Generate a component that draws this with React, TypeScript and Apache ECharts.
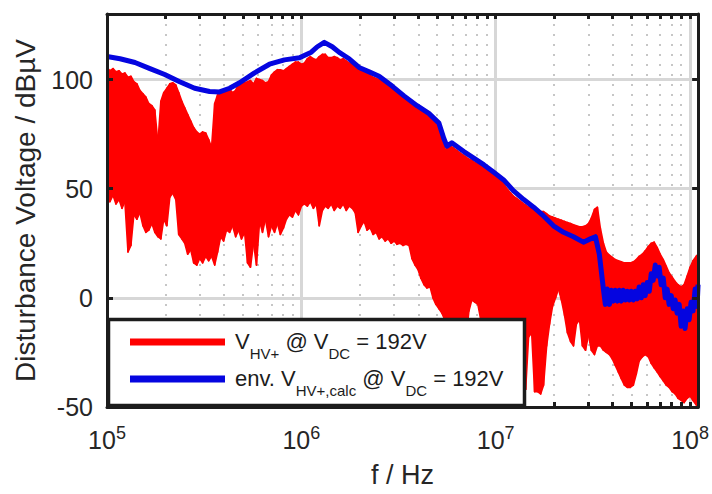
import React, { useEffect, useRef } from 'react';
import * as echarts from 'echarts';

// ---- data (log10 of frequency in Hz, disturbance voltage in dBµV) ----
const redLogF = [
  5.000, 5.015, 5.031, 5.046, 5.062, 5.077, 5.092, 5.108, 5.123, 5.138,
  5.154, 5.169, 5.185, 5.200, 5.215, 5.231, 5.246, 5.262, 5.277, 5.292,
  5.308, 5.323, 5.338, 5.354, 5.369, 5.385, 5.400, 5.415, 5.431, 5.446,
  5.462, 5.477, 5.492, 5.508, 5.523, 5.538, 5.554, 5.569, 5.585, 5.600,
  5.615, 5.631, 5.646, 5.662, 5.677, 5.692, 5.708, 5.723, 5.738, 5.754,
  5.769, 5.785, 5.800, 5.815, 5.831, 5.846, 5.862, 5.877, 5.892, 5.908,
  5.923, 5.938, 5.954, 5.969, 5.985, 6.000, 6.015, 6.031, 6.046, 6.062,
  6.077, 6.092, 6.108, 6.123, 6.138, 6.154, 6.169, 6.185, 6.200, 6.215,
  6.231, 6.246, 6.262, 6.277, 6.292, 6.308, 6.323, 6.338, 6.354, 6.369,
  6.385, 6.400, 6.415, 6.431, 6.446, 6.462, 6.477, 6.492, 6.508, 6.523,
  6.538, 6.554, 6.569, 6.585, 6.600, 6.615, 6.631, 6.646, 6.662, 6.677,
  6.692, 6.708, 6.723, 6.738, 6.754, 6.769, 6.785, 6.800, 6.815, 6.831,
  6.846, 6.862, 6.877, 6.892, 6.908, 6.923, 6.938, 6.954, 6.969, 6.985,
  7.000, 7.015, 7.031, 7.046, 7.062, 7.077, 7.092, 7.108, 7.123, 7.138,
  7.154, 7.169, 7.185, 7.200, 7.215, 7.231, 7.246, 7.262, 7.277, 7.292,
  7.308, 7.323, 7.338, 7.354, 7.369, 7.385, 7.400, 7.415, 7.431, 7.446,
  7.462, 7.477, 7.492, 7.508, 7.523, 7.538, 7.554, 7.569, 7.585, 7.600,
  7.615, 7.631, 7.646, 7.662, 7.677, 7.692, 7.708, 7.723, 7.738, 7.754,
  7.769, 7.785, 7.800, 7.815, 7.831, 7.846, 7.862, 7.877, 7.892, 7.908,
  7.923, 7.938, 7.954, 7.969, 7.985, 8.000, 8.015, 8.031, 8.041,
];

const redTop = [
  105.5, 104, 105, 103.5, 104, 102.5, 103, 101, 101.5, 99,
  98, 95, 93.5, 92, 89, 88, 86, 71, 90, 94,
  96, 98, 98.5, 97.5, 94, 90, 87, 84, 81, 78,
  76, 75, 76, 75.5, 72.5, 69, 89, 93, 94.5, 95,
  95, 95.5, 94, 95, 98, 99, 98.5, 99, 99.5, 98,
  100.5, 100, 99.5, 98.5, 99, 102, 103.5, 104.5, 104.5, 104,
  105, 106, 107, 108, 108, 107, 107.5, 109.5, 110.5, 109.5,
  109, 110.5, 111.5, 111.5, 110, 110, 110.5, 110, 109, 109.5,
  108.5, 107.5, 107, 106, 105, 104.5, 104, 103, 102, 101,
  100.5, 100, 99, 98, 97.5, 96.5, 95.5, 94.5, 93.5, 92.5,
  91.5, 90.5, 89, 88, 87, 86, 85, 84, 82.5, 81,
  79.5, 78, 74, 68, 68.5, 69.5, 68.5, 67.5, 66.5, 65.5,
  64.5, 63.5, 63, 62, 61.5, 60.5, 59.5, 58.5, 57.5, 56.5,
  55.5, 54.5, 53, 51.5, 49.5, 48, 46.5, 45.5, 44.5, 43.5,
  42.5, 41.5, 41, 40.5, 40, 39.5, 39.5, 38.5, 37.5, 37,
  36.5, 36, 35.5, 35, 34.5, 34, 33.5, 33, 32.5, 32.5,
  33, 34, 36.5, 40.5, 41.5, 32, 25, 21, 19.5, 18.5,
  17.5, 17, 16.5, 16, 16, 16, 16.5, 17.5, 19, 20,
  21.5, 23.5, 25, 25.5, 23, 20, 17.5, 14.5, 11.5, 9.5,
  7.5, 6, 5, 6, 10, 14, 17, 19, 20,
];

const redBottom = [
  46, 44, 47, 43, 45, 41, 44, 21, 24, 38,
  36, 39, 33, 30, 31, 34, 30, 28, 27, 36,
  33, 46, 48, 45, 29, 27, 25, 20, 22, 16,
  15, 18, 16, 19, 17, 19, 15, 21, 28, 26,
  31, 30, 33, 28, 31, 27, 30, 16, 14, 25,
  15, 35, 30, 36, 28, 33, 30, 34, 29, 32,
  36, 38, 37, 40, 38, 42, 43, 42, 44, 41,
  43, 33, 40, 42, 41, 43, 40, 42, 41, 43,
  40, 42, 41, 39, 30, 33, 35, 31, 32, 29,
  30, 27, 28, 26, 27, 25, 26, 24.5, 25, 24,
  24.5, 24, 18, 15, 13, 9, 6, 4.5, 5, 0,
  -3, -5, -7, -10, -20, -30, -30, -30, -30, -30,
  -20, -6, -1, -2, -3, -10, -30, -30, -30, -30,
  -30, -30, -30, -30, -30, -30, -30, -30, -30, -42,
  -42, -18, -16, -43, -43, -44, -40, -22, -12, -4,
  0, 4, -1, -8, -16, -20, -22, -12, -10, -22,
  -24, -17, -24, -26, -22, -22, -24, -25, -26, -28,
  -31, -34, -37, -40, -41, -41, -40, -35, -29, -27,
  -26, -27, -30, -32, -34, -36, -38, -40, -41, -43,
  -44, -46, -47, -48, -46, -45, -47, -49, -50,
];

const blueLogF = [
  5.000, 5.067, 5.144, 5.221, 5.297, 5.374, 5.451, 5.528, 5.579, 5.631,
  5.682, 5.759, 5.836, 5.913, 5.990, 6.051, 6.082, 6.118, 6.159, 6.195,
  6.246, 6.297, 6.349, 6.400, 6.467, 6.528, 6.595, 6.656, 6.708, 6.733,
  6.749, 6.774, 6.836, 6.887, 6.938, 6.990, 7.041, 7.092, 7.144, 7.195,
  7.246, 7.297, 7.349, 7.400, 7.451, 7.487, 7.513, 7.533, 7.554, 7.564,
  7.574, 7.585, 7.595, 7.605, 7.615, 7.626, 7.636, 7.646, 7.656, 7.667,
  7.677, 7.687, 7.697, 7.708, 7.718, 7.728, 7.738, 7.749, 7.759, 7.769,
  7.779, 7.790, 7.800, 7.810, 7.821, 7.831, 7.841, 7.851, 7.862, 7.872,
  7.882, 7.892, 7.903, 7.913, 7.923, 7.933, 7.944, 7.954, 7.964, 7.974,
  7.985, 7.995, 8.005, 8.015, 8.026, 8.036, 8.041,
];

const blueVal = [
  110.5, 109.5, 107.8, 105, 102.3, 99, 96, 94.5, 94.3, 96,
  98.5, 103, 107, 109, 110, 112.5, 115, 117, 115, 112.4,
  109.5, 105.5, 103.5, 101.5, 97, 92.5, 88, 84.5, 80, 73,
  69.5, 71, 67, 64, 61, 57.5, 54, 49, 45, 41.5,
  37.5, 33, 30, 28, 25.5, 27, 28, 20, 4, -3,
  4, -3, 3.5, -1.5, 3.5, -1.5, 3.5, -1.5, 3.5, -1,
  3, -1, 3, -1, 3, -0.5, 5, 0, 6, 1,
  7, 3, 11, 8, 15, 10, 14, 6, 9, 0,
  4, -3, 1, -5, -1, -7, -3, -13, -6, -14,
  -5, -10, -2, -6, 4, -4, 6,
];

const xMin = 1e5;
const xMax = 1.1e8;
const yMin = -50;
const yMax = 130;
const yStep = 50;
const majorFreqs = [1e5, 1e6, 1e7, 1e8];
const minorFreqs = [
  2e5, 3e5, 4e5, 5e5, 6e5, 7e5, 8e5, 9e5,
  2e6, 3e6, 4e6, 5e6, 6e6, 7e6, 8e6, 9e6,
  2e7, 3e7, 4e7, 5e7, 6e7, 7e7, 8e7, 9e7,
];

const xTitle = 'f / Hz';
const yTitle = 'Disturbance Voltage / dBµV';
const legendLine1 = '{m|V}{s|HV+}{m| @ V}{s|DC}{m| = 192V}';
const legendLine2 = '{m|env. V}{s|HV+,calc}{m| @ V}{s|DC}{m| = 192V}';

const RED = '#ff0000';
const BLUE = '#0505e0';
const INK = '#1c1c1c';
const TXT = '#262626';
const FONT = "'Liberation Sans', Arial, Helvetica, sans-serif";

export default function App() {
  const ref = useRef<HTMLDivElement>(null);

  useEffect(() => {
    document.body.style.margin = '0';
    const chart = echarts.init(ref.current as HTMLDivElement, null, { renderer: 'svg' });

    const redData = redLogF.map((lf, i) => [Math.pow(10, lf), redTop[i], redBottom[i]]);
    const blueData = blueLogF.map((lf, i) => [Math.pow(10, lf), blueVal[i]]);
    const allTicks = majorFreqs.concat(minorFreqs);

    const baseX = {
      type: 'log' as const,
      logBase: 10,
      min: xMin,
      max: xMax,
      gridIndex: 0,
    };
    const baseY = {
      type: 'value' as const,
      min: yMin,
      max: yMax,
      interval: yStep,
      gridIndex: 0,
    };
    const frameLine = { show: true, onZero: false, lineStyle: { color: INK, width: 3 } };

    const option: any = {
      animation: false,
      backgroundColor: '#ffffff',
      grid: { left: 107, right: 12, top: 14, bottom: 87, show: false },
      xAxis: [
        {
          ...baseX,
          position: 'bottom',
          axisLine: { show: false, onZero: false },
          axisTick: { show: false },
          minorTick: { show: false },
          axisLabel: {
            margin: 17,
            showMaxLabel: false,
            formatter: (v: number) => {
              const e = Math.log10(v);
              const r = Math.round(e);
              if (Math.abs(e - r) > 1e-6) return '';
              return '{b|10}{s|' + r + '}';
            },
            rich: {
              b: { fontSize: 25, lineHeight: 32, fontFamily: FONT, color: TXT },
              s: { fontSize: 18, lineHeight: 20, verticalAlign: 'top', fontFamily: FONT, color: TXT },
            },
          },
          splitLine: { show: true, lineStyle: { color: '#d7d7d7', width: 3 } },
          name: xTitle,
          nameLocation: 'middle',
          nameGap: 54,
          nameTextStyle: { fontSize: 27, fontFamily: FONT, color: TXT },
        },
        {
          ...baseX,
          position: 'bottom',
          axisLine: { show: false, onZero: false },
          axisTick: { show: false, customValues: minorFreqs },
          axisLabel: { show: false },
          splitLine: { show: true, lineStyle: { color: '#b8b8b8', width: 1.6, type: [2, 8] } },
        },
        {
          ...baseX,
          position: 'bottom',
          z: 10,
          axisLine: frameLine,
          axisTick: { show: true, inside: true, length: 5, lineStyle: { color: INK, width: 3 }, customValues: allTicks },
          axisLabel: { show: false },
          splitLine: { show: false },
        },
        {
          ...baseX,
          position: 'top',
          z: 10,
          axisLine: frameLine,
          axisTick: { show: true, inside: true, length: 5, lineStyle: { color: INK, width: 3 }, customValues: allTicks },
          axisLabel: { show: false },
          splitLine: { show: false },
        },
      ],
      yAxis: [
        {
          ...baseY,
          position: 'left',
          axisLine: { show: false, onZero: false },
          axisTick: { show: false },
          axisLabel: { margin: 14, fontSize: 25, fontFamily: FONT, color: TXT, showMaxLabel: false },
          splitLine: { show: true, lineStyle: { color: '#d7d7d7', width: 3 } },
          name: yTitle,
          nameLocation: 'middle',
          nameRotate: 90,
          nameGap: 68,
          nameTextStyle: { fontSize: 28, fontFamily: FONT, color: TXT },
        },
        {
          ...baseY,
          position: 'left',
          z: 10,
          axisLine: frameLine,
          axisTick: { show: true, inside: true, length: 6, lineStyle: { color: INK, width: 3 } },
          axisLabel: { show: false },
          splitLine: { show: false },
        },
        {
          ...baseY,
          position: 'right',
          z: 10,
          axisLine: frameLine,
          axisTick: { show: true, inside: true, length: 6, lineStyle: { color: INK, width: 3 } },
          axisLabel: { show: false },
          splitLine: { show: false },
        },
      ],
      series: [
        {
          name: 'V_HV+',
          type: 'custom',
          xAxisIndex: 0,
          yAxisIndex: 0,
          z: 2,
          data: redData,
          encode: { x: 0, y: [1, 2] },
          renderItem: (params: any, api: any) => {
            const i = params.dataIndexInside;
            if (i >= params.dataInsideLength - 1) return null;
            const p0 = api.coord([api.value(0, i), api.value(1, i)]);
            const p1 = api.coord([api.value(0, i + 1), api.value(1, i + 1)]);
            const p2 = api.coord([api.value(0, i + 1), api.value(2, i + 1)]);
            const p3 = api.coord([api.value(0, i), api.value(2, i)]);
            return {
              type: 'polygon',
              shape: { points: [p0, p1, p2, p3] },
              style: { fill: RED, stroke: RED, lineWidth: 1.6, lineJoin: 'round' },
            };
          },
        },
        {
          name: 'env',
          type: 'line',
          xAxisIndex: 0,
          yAxisIndex: 0,
          z: 3,
          data: blueData,
          symbol: 'none',
          showSymbol: false,
          lineStyle: { color: BLUE, width: 5, join: 'round' },
        },
      ],
      graphic: [
        {
          type: 'rect',
          z: 100,
          shape: { x: 108.5, y: 319.5, width: 416, height: 86 },
          style: { fill: '#ffffff', stroke: INK, lineWidth: 3.5 },
        },
        {
          type: 'line',
          z: 101,
          shape: { x1: 130, y1: 342, x2: 225, y2: 342 },
          style: { stroke: RED, lineWidth: 7 },
        },
        {
          type: 'line',
          z: 101,
          shape: { x1: 130, y1: 379, x2: 225, y2: 379 },
          style: { stroke: BLUE, lineWidth: 7 },
        },
        {
          type: 'text',
          z: 101,
          x: 235,
          y: 341,
          style: {
            text: legendLine1,
            verticalAlign: 'middle',
            align: 'left',
            rich: {
              m: { fontSize: 22, lineHeight: 40, fontFamily: FONT, fill: INK },
              s: { fontSize: 15, lineHeight: 18, verticalAlign: 'bottom', fontFamily: FONT, fill: INK },
            },
          },
        },
        {
          type: 'text',
          z: 101,
          x: 235,
          y: 378,
          style: {
            text: legendLine2,
            verticalAlign: 'middle',
            align: 'left',
            rich: {
              m: { fontSize: 22, lineHeight: 40, fontFamily: FONT, fill: INK },
              s: { fontSize: 15, lineHeight: 18, verticalAlign: 'bottom', fontFamily: FONT, fill: INK },
            },
          },
        },
      ],
    };

    chart.setOption(option);
    return () => chart.dispose();
  }, []);

  return <div ref={ref} style={{ width: 712, height: 494 }} />;
}
